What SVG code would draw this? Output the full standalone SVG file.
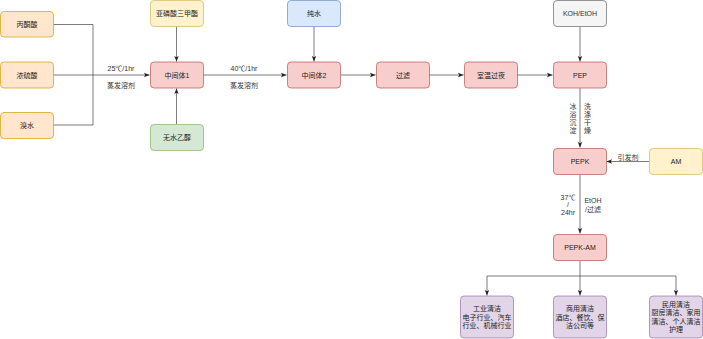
<svg xmlns="http://www.w3.org/2000/svg" width="703" height="339" viewBox="0 0 703 339">
<defs>
<style>
text{font-family:"Liberation Sans","Noto Sans CJK SC",sans-serif;font-size:7px;fill:#222;text-anchor:middle;dominant-baseline:central}
.lbl{fill:#333}
.orange{fill:#ffe6cc;stroke:#d79b00}
.yellow{fill:#fff2cc;stroke:#d6b656}
.red{fill:#f8cecc;stroke:#b85450}
.blue{fill:#dae8fc;stroke:#6c8ebf}
.green{fill:#d5e8d4;stroke:#82b366}
.gray{fill:#f5f5f5;stroke:#666666}
.purple{fill:#e1d5e7;stroke:#9673a6}
rect{stroke-width:0.7}
.edge{fill:none;stroke:#444;stroke-width:0.7}
</style>
<marker id="arr" markerUnits="userSpaceOnUse" markerWidth="6" markerHeight="6" viewBox="0 0 6 6" refX="5.5" refY="3" orient="auto">
<path d="M0,0.8 L5.5,3 L0,5.2 L1.2,3 Z" fill="#222"/>
</marker>
</defs>
<rect width="703" height="339" fill="#ffffff"/>

<g id="connectors">
<path class="edge" d="M53,24.5 H93 V125 H53"/>
<path class="edge" d="M53,75 H149.5" marker-end="url(#arr)"/>
<path class="edge" d="M176.5,26 V61.5" marker-end="url(#arr)"/>
<path class="edge" d="M176.5,124 V88.5" marker-end="url(#arr)"/>
<path class="edge" d="M203,75 H286.5" marker-end="url(#arr)"/>
<path class="edge" d="M314,26 V61.5" marker-end="url(#arr)"/>
<path class="edge" d="M341,75 H375.5" marker-end="url(#arr)"/>
<path class="edge" d="M429,75 H463.5" marker-end="url(#arr)"/>
<path class="edge" d="M517,75 H552.5" marker-end="url(#arr)"/>
<path class="edge" d="M580,26 V61.5" marker-end="url(#arr)"/>
<path class="edge" d="M580,88 V147.5" marker-end="url(#arr)"/>
<path class="edge" d="M649,161.5 H606.5" marker-end="url(#arr)"/>
<path class="edge" d="M580,175 V233.5" marker-end="url(#arr)"/>
<path class="edge" d="M580,261 V295.5" marker-end="url(#arr)"/>
<path class="edge" d="M580,276 H487 V295.5" marker-end="url(#arr)"/>
<path class="edge" d="M580,276 H676 V295.5" marker-end="url(#arr)"/>
<text class="lbl" x="121" y="68">25℃/1hr</text>
<text class="lbl" x="121" y="85">蒸发溶剂</text>
<text class="lbl" x="244" y="68">40℃/1hr</text>
<text class="lbl" x="244" y="85">蒸发溶剂</text>
<text class="lbl" x="573" y="106">冰</text>
<text class="lbl" x="573" y="114">浴</text>
<text class="lbl" x="573" y="122">沉</text>
<text class="lbl" x="573" y="130">淀</text>
<text class="lbl" x="587.5" y="106">洗</text>
<text class="lbl" x="587.5" y="114">涤</text>
<text class="lbl" x="587.5" y="122">干</text>
<text class="lbl" x="587.5" y="130">燥</text>
<text class="lbl" x="628" y="157">引发剂</text>
<text class="lbl" x="568" y="197">37℃</text>
<text class="lbl" x="568" y="204">/</text>
<text class="lbl" x="568" y="212">24hr</text>
<text class="lbl" x="593" y="200">EtOH</text>
<text class="lbl" x="593" y="209">/过滤</text>
</g>

<g id="n-bingtongsuan"><rect class="orange" x="0.5" y="11.5" width="53" height="25.5" rx="3.5"/><text x="27" y="24.5">丙酮酸</text></g>
<g id="n-nongliusuan"><rect class="orange" x="0.5" y="62" width="53" height="26" rx="3.5"/><text x="27" y="75">浓硫酸</text></g>
<g id="n-xiushui"><rect class="orange" x="0.5" y="112.5" width="53" height="26" rx="3.5"/><text x="27" y="125.5">溴水</text></g>
<g id="n-yalinsuan"><rect class="yellow" x="150.5" y="0.5" width="53" height="26" rx="3.5"/><text x="177" y="13.5">亚磷酸三甲酯</text></g>
<g id="n-zhongjianti1"><rect class="red" x="150.5" y="62" width="53" height="26" rx="3.5"/><text x="177" y="75">中间体1</text></g>
<g id="n-wushuiyichun"><rect class="green" x="150.5" y="124.5" width="53" height="26" rx="3.5"/><text x="177" y="137.5">无水乙醇</text></g>
<g id="n-chunshui"><rect class="blue" x="287.5" y="0.5" width="53" height="26" rx="3.5"/><text x="314" y="13.5">纯水</text></g>
<g id="n-zhongjianti2"><rect class="red" x="287.5" y="62" width="53" height="26" rx="3.5"/><text x="314" y="75">中间体2</text></g>
<g id="n-guolv"><rect class="red" x="376.5" y="62" width="53" height="26" rx="3.5"/><text x="403" y="75">过滤</text></g>
<g id="n-shiwen"><rect class="red" x="464.5" y="62" width="53" height="26" rx="3.5"/><text x="491" y="75">室温过夜</text></g>
<g id="n-koh"><rect class="gray" x="553.5" y="0.5" width="53" height="26" rx="3.5"/><text x="580" y="13.5" style="fill:#333">KOH/EtOH</text></g>
<g id="n-pep"><rect class="red" x="553.5" y="62" width="53" height="26" rx="3.5"/><text x="580" y="75">PEP</text></g>
<g id="n-pepk"><rect class="red" x="553.5" y="148.5" width="53" height="26" rx="3.5"/><text x="580" y="161.5">PEPK</text></g>
<g id="n-am"><rect class="yellow" x="649.5" y="148.5" width="53" height="26" rx="3.5"/><text x="676" y="161.5">AM</text></g>
<g id="n-pepkam"><rect class="red" x="553.5" y="234.5" width="53" height="26" rx="3.5"/><text x="580" y="247.5">PEPK-AM</text></g>
<g id="n-gongye"><rect class="purple" x="460.5" y="296" width="53" height="42" rx="3.5"/><text x="487" y="308.5">工业清洁</text><text x="487" y="317">电子行业、汽车</text><text x="487" y="325.5">行业、机械行业</text></g>
<g id="n-shangyong"><rect class="purple" x="553.5" y="296" width="53" height="42" rx="3.5"/><text x="580" y="308.5">商用清洁</text><text x="580" y="317">酒店、餐饮、保</text><text x="580" y="325.5">洁公司等</text></g>
<g id="n-minyong"><rect class="purple" x="649.5" y="296" width="53" height="42" rx="3.5"/><text x="676" y="304">民用清洁</text><text x="676" y="312.5">厨房清洁、家用</text><text x="676" y="321">清洁、个人清洁</text><text x="676" y="329.5">护理</text></g>
</svg>
